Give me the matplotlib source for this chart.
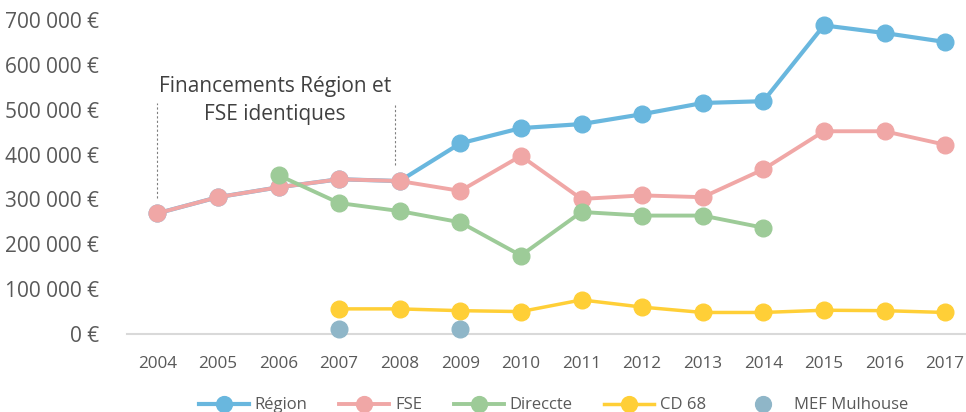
import matplotlib
matplotlib.use("Agg")
import matplotlib.pyplot as plt
import numpy as np

years = list(range(2004, 2018))
region = [269000, 305000, 327000, 345000, 341000, 425000, 459000, 468000, 490000, 515000, 519000, 688000, 671000, 651000]
fse = [269000, 305000, 327000, 345000, 341000, 319000, 397000, 301000, 309000, 305000, 367000, 452000, 452000, 422000]
direccte = [None, None, 354000, 292000, 274000, 249000, 175000, 272000, 264000, 264000, 237000, None, None, None]
cd68 = [None, None, None, 56000, 56000, 52000, 50000, 76000, 60000, 48000, 48000, 53000, 52000, 48000]
mef = [None, None, None, 11000, None, 11000, None, None, None, None, None, None, None, None]
yticks = [0, 100000, 200000, 300000, 400000, 500000, 600000, 700000]
annot_text = "Financements Région et\nFSE identiques"

def arr(v):
    return np.array([np.nan if x is None else x for x in v], dtype=float)

plt.rcParams['font.family'] = ['Open Sans', 'DejaVu Sans']

fig = plt.figure(figsize=(9.66, 4.12), dpi=100)
ax = fig.add_axes([127/966, (412-334)/412, 1 - 127/966, (334-20)/412])

ms = 12
ax.plot(years, arr(region), color='#69B7DE', lw=3, marker='o', ms=ms, label='Région', clip_on=False, zorder=3)
ax.plot(years, arr(fse), color='#F0A7A6', lw=2.8, marker='o', ms=ms, label='FSE', clip_on=False, zorder=4)
ax.plot(years, arr(direccte), color='#9DCB98', lw=2.8, marker='o', ms=ms, label='Direccte', clip_on=False, zorder=5)
ax.plot(years, arr(cd68), color='#FFCF37', lw=2.5, marker='o', ms=ms, label='CD 68', clip_on=False, zorder=5)
ax.plot(years, arr(mef), color='#8FB6C8', lw=0, marker='o', ms=ms, label='MEF Mulhouse', clip_on=False, zorder=5)

ax.set_xlim(2003.5, 2003.5 + 839/60.6)
ax.set_ylim(0, 700000)
ax.set_xticks(years)
ax.set_xticklabels([str(y) for y in years], fontsize=12.3, color='#595959')
ax.set_yticks(yticks)
ax.set_yticklabels([f"{v:,}".replace(",", " ") + " €" if v else "0 €" for v in yticks], fontsize=15, color='#595959')
ax.tick_params(length=0)
ax.tick_params(axis='x', pad=16)
ax.tick_params(axis='y', pad=20)
for s in ['top', 'right', 'left']:
    ax.spines[s].set_visible(False)
ax.spines['bottom'].set_color('#D9D9D9')
ax.spines['bottom'].set_linewidth(1.5)

# annotation
ax.plot([2004, 2004], [303000, 516000], ls=(0, (2, 2)), color='#7F7F7F', lw=0.8, zorder=1)
ax.plot([2007.92, 2007.92], [377000, 516000], ls=(0, (2, 2)), color='#7F7F7F', lw=0.8, zorder=1)
ax.text(2005.94, 521000, annot_text, ha='center', va='center', fontsize=15, color='#404040', linespacing=1.45)

leg = fig.legend(loc='lower center', bbox_to_anchor=(0.573, -0.04), ncol=5, frameon=False,
                 fontsize=12, handlelength=3.0, columnspacing=1.9, handletextpad=0.35, markerscale=0.95)
for t in leg.get_texts():
    t.set_color('#595959')

fig.savefig('out.png', dpi=100)
